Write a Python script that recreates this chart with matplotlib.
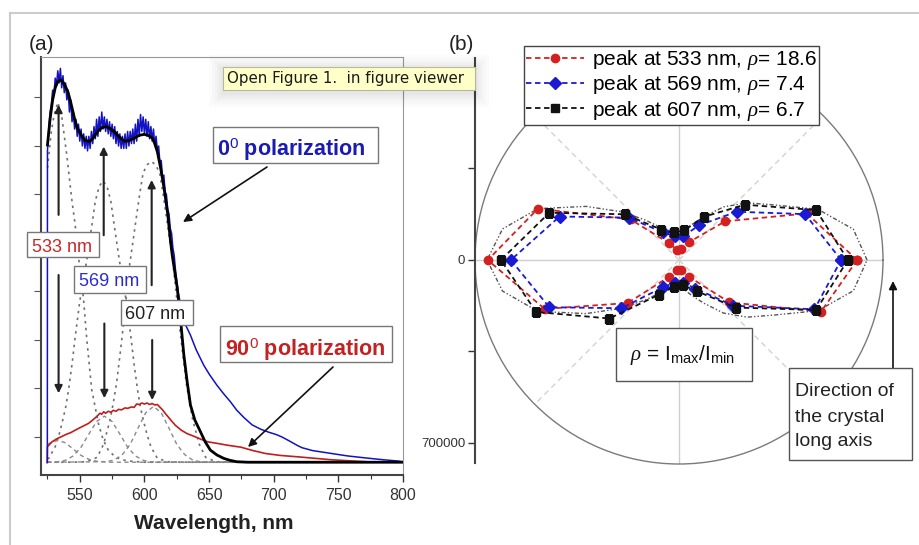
import numpy as np
import matplotlib
matplotlib.use("Agg")
import matplotlib.pyplot as plt
from matplotlib.patches import Rectangle
from matplotlib.lines import Line2D
from matplotlib.ticker import MultipleLocator

plt.rcParams['font.family'] = ['Liberation Sans', 'DejaVu Sans']
plt.rcParams['mathtext.fontset'] = 'custom'
plt.rcParams['mathtext.rm'] = 'Liberation Sans'
plt.rcParams['mathtext.it'] = 'Liberation Serif:italic'
plt.rcParams['mathtext.bf'] = 'Liberation Sans:bold'

# ---------------- panel (a) data (wavelength nm, intensity a.u.) ----------------
fit0_wl = [525, 527, 529, 531, 533, 535.6, 538, 540.8, 543, 545.9, 548, 551, 554, 557.4, 560,
           563.8, 567, 570.3, 573, 576.7, 580, 584.4, 588, 592, 596, 599.8, 603, 606.2, 608, 610,
           612.5, 615.2, 618, 620.2, 621.5, 623.5, 625.4, 628, 630.5, 633, 635.6, 639, 643.3, 647,
           651, 656, 661.3, 666, 671.5, 680, 800]
fit0_val = [7.02, 7.55, 7.95, 8.2, 8.33, 8.36, 8.28, 8.12, 7.9, 7.57, 7.38, 7.23, 7.12, 7.09, 7.15,
            7.30, 7.38, 7.40, 7.37, 7.30, 7.2, 7.10, 7.11, 7.16, 7.22, 7.24, 7.22, 7.16, 7.05, 6.88,
            6.55, 6.13, 5.6, 5.03, 4.75, 4.4, 4.07, 3.4, 2.69, 2.15, 1.66, 1.35, 1.11, 0.9,
            0.73, 0.63, 0.56, 0.52, 0.49, 0.48, 0.48]

blue_wl = [524.9] + list(range(525, 625)) + [626, 628, 630, 632, 635.6, 640, 645.9, 650, 656, 661,
           666.4, 671.5, 677, 683.3, 690, 696, 702, 706.4, 712, 718, 721.8, 730, 744.9, 757, 770.5,
           785, 796, 800]
blue_val = [0.48,
            6.9, 7.35, 7.7, 7.85, 8.15, 8.05, 8.4, 8.25, 8.55, 8.3,
            8.6, 8.2, 8.45, 8.1, 8.3, 7.95, 8.15, 7.7, 7.95, 7.5,
            7.7, 7.35, 7.55, 7.2, 7.45, 7.1, 7.35, 7.0, 7.25, 6.95,
            7.2, 6.9, 7.2, 6.95, 7.3, 7.05, 7.4, 7.15, 7.55, 7.2,
            7.6, 7.3, 7.7, 7.35, 7.6, 7.3, 7.55, 7.25, 7.5, 7.2,
            7.45, 7.15, 7.4, 7.05, 7.3, 7.0, 7.25, 6.95, 7.2, 6.95,
            7.25, 6.95, 7.3, 7.0, 7.3, 7.05, 7.35, 7.05, 7.45, 7.1,
            7.55, 7.2, 7.65, 7.3, 7.6, 7.25, 7.55, 7.2, 7.5, 7.15,
            7.4, 7.1, 7.35, 7.0, 7.2, 6.9, 7.0, 6.65, 6.7, 6.35,
            6.4, 6.05, 6.0, 5.7, 5.6, 5.3, 5.2, 4.9, 4.75, 4.45,
            4.0, 3.72, 3.5, 3.3, 3.1, 2.8, 2.48, 2.3, 2.07, 1.9,
            1.73, 1.55, 1.4, 1.25, 1.16, 1.1, 1.05, 1.0, 0.92, 0.83, 0.78, 0.72, 0.66, 0.61, 0.57,
            0.53, 0.505, 0.49]

red_wl = [524.8, 525, 528.5, 532, 536, 540, 543, 546.4, 550, 553, 556.7, 560, 563, 565.6, 567, 568.5,
          570, 572, 574, 576, 578, 580, 582.3, 585, 587, 590, 592, 594, 596, 598, 600, 602, 604,
          606, 608, 610, 611.8, 614, 616, 618.2, 621, 624, 628.5, 633, 638.7, 644, 649, 656, 664.4,
          674.6, 684, 693.6, 705, 719.2, 732, 744.9, 758, 772]
red_val = [0.47, 0.8, 0.90, 0.96, 1.01, 1.06, 1.09, 1.14, 1.19, 1.23, 1.28, 1.35, 1.42, 1.49, 1.47, 1.52,
           1.49, 1.53, 1.51, 1.55, 1.53, 1.57, 1.56, 1.6, 1.59, 1.62, 1.61, 1.68, 1.67, 1.70, 1.68, 1.70, 1.67,
           1.69, 1.66, 1.67, 1.62, 1.56, 1.49, 1.42, 1.33, 1.24, 1.14, 1.07, 1.01, 0.95, 0.90, 0.87, 0.83,
           0.79, 0.72, 0.66, 0.62, 0.59, 0.56, 0.53, 0.51, 0.49]

# fitted components, 0 deg (dotted)
c533_wl = [525, 526, 528, 530, 533, 536, 540, 543.8, 546.4, 549.5, 552.8, 555.4, 559.2, 564.4, 568, 572,
           577, 582.3, 590, 600, 620, 800]
c533_val = [6.55, 6.8, 7.3, 7.62, 7.9, 7.62, 6.8, 5.9, 5.38, 4.6, 3.87, 3.02, 1.98, 1.28, 0.95, 0.73,
            0.6, 0.53, 0.5, 0.48, 0.48, 0.48]
c569_wl = [525, 526, 531, 534, 536.2, 539, 541.3, 544, 546.4, 550, 553, 556, 559, 562, 565, 568, 571, 574,
           577, 580, 583, 586, 589.6, 592, 594.7, 597, 599.8, 602, 605, 610, 618, 630, 800]
c569_val = [0.55, 0.56, 0.8, 1.05, 1.28, 1.6, 1.97, 2.5, 3.05, 3.8, 4.25, 4.75, 5.3, 5.86, 6.17, 6.28,
            6.17, 5.86, 5.3, 4.75, 4.25, 3.8, 3.05, 2.5, 1.97, 1.6, 1.28, 1.05, 0.8, 0.56, 0.49, 0.48, 0.48]
c607_wl = [525, 545.4, 555.4, 563.4, 568.4, 573.4, 575.9, 578.4, 580.9, 583.6, 586.4, 588.7, 591.3, 593.8,
           596.4, 599, 602.4, 605.4, 608.4, 611.8, 614.4, 617, 619.5, 622.1, 624.4, 627.2, 629.9, 632.4,
           634.9, 637.4, 642.4, 647.4, 655.4, 665.4, 800]
c607_val = [0.48, 0.48, 0.49, 0.58, 0.85, 1.35, 1.7, 2.1, 2.65, 3.27, 4.0, 4.58, 5.06, 5.54, 6.02, 6.45,
            6.62, 6.68, 6.62, 6.45, 6.02, 5.54, 5.06, 4.58, 4.0, 3.27, 2.65, 2.1, 1.7, 1.35, 0.85, 0.58,
            0.49, 0.48, 0.48]
# fitted components, 90 deg (dashed)
d533_wl = [525, 527, 533, 539, 545, 551, 557, 563, 573, 800]
d533_val = [0.84, 0.88, 0.93, 0.88, 0.75, 0.62, 0.54, 0.50, 0.48, 0.48]
d569_wl = [525, 533, 539, 545, 551, 557, 563, 569, 575, 581, 587, 593, 599, 605, 615, 800]
d569_val = [0.48, 0.49, 0.52, 0.61, 0.79, 1.06, 1.32, 1.43, 1.32, 1.06, 0.79, 0.61, 0.52, 0.49, 0.48, 0.48]
d607_wl = [525, 571, 577, 583, 589, 595, 601, 607, 613, 619, 625, 631, 637, 643, 655, 800]
d607_val = [0.48, 0.49, 0.53, 0.64, 0.85, 1.18, 1.5, 1.63, 1.5, 1.18, 0.85, 0.64, 0.53, 0.49, 0.48, 0.48]

xticks_a = [550, 600, 650, 700, 750, 800]

# ---------------- panel (b) data (angle deg, intensity in thousands of counts) ----------------
angles = [0, 20, 40, 60, 80, 100, 120, 140, 160, 180, 200, 220, 240, 260, 280, 300, 320, 340]
r533 = [681, 520, 230, 80, 42, 38, 73, 241, 574, 731, 547, 256, 73, 38, 38, 73, 252, 578]
r569 = [620, 513, 287, 153, 92, 92, 122, 252, 486, 643, 528, 287, 119, 88, 88, 126, 272, 551]
r607 = [646, 558, 329, 191, 115, 107, 134, 272, 528, 681, 581, 348, 153, 103, 99, 138, 283, 558]
fit_angles = [0, 10, 20, 30, 40, 50, 60, 70, 80, 90, 100, 110, 120, 130, 140, 150, 160, 170, 180,
              190, 200, 210, 220, 230, 240, 250, 260, 270, 280, 290, 300, 310, 320, 330, 340, 350, 360]
fit_r = [719, 677, 566, 421, 340, 265, 191, 145, 115, 107, 107, 122, 145, 199, 287, 410, 574, 685, 734,
         685, 574, 410, 287, 199, 145, 122, 107, 107, 115, 145, 191, 265, 340, 421, 566, 677, 719]
legend_labels = [r'peak at 533 nm, $\rho$= 18.6', r'peak at 569 nm, $\rho$= 7.4',
                 r'peak at 607 nm, $\rho$= 6.7']
r_ticks = [-700000, -350000, 0, 350000, 700000]
r_ticklabels = ['', '', '0', '', '700000']

# ---------------- figure ----------------
W, H = 919, 545
fig = plt.figure(figsize=(W / 100, H / 100), dpi=100)
fig.patch.set_facecolor('white')


def fx(x):
    return x / W


def fy(y):
    return 1 - y / H


# page frame
fig.add_artist(Line2D([fx(10), 1], [fy(13), fy(13)], color='#cccccc', lw=1.5, transform=fig.transFigure))
fig.add_artist(Line2D([fx(10), fx(10)], [fy(13), 0], color='#cccccc', lw=1.5, transform=fig.transFigure))

# ---- panel (a)
axa = fig.add_axes([fx(41), fy(475), fx(403) - fx(41), fy(57) - fy(475)])
axa.set_xlim(520, 800)
axa.set_ylim(0.2165, 8.835)
dot = (0, (1.5, 2.6))
for wl, v in [(c533_wl, c533_val), (c569_wl, c569_val), (c607_wl, c607_val)]:
    axa.plot(wl, v, color='#707070', lw=1.2, ls=dot)
for wl, v in [(d533_wl, d533_val), (d569_wl, d569_val), (d607_wl, d607_val)]:
    axa.plot(wl, v, color='#8a8a8a', lw=1.0, ls=(0, (3, 2.5)))
axa.plot(red_wl, red_val, color='#c01e1e', lw=1.2)
axa.plot(blue_wl, blue_val, color='#1212c0', lw=1.1)
axa.plot(fit0_wl, fit0_val, color='black', lw=2.0)

arrow_kw = dict(arrowstyle='-|>', color='#222222', lw=1.5, mutation_scale=11, shrinkA=0, shrinkB=0)
for x, y0, y1 in [(533.6, 5.58, 7.85), (568.5, 5.16, 6.99), (605.6, 4.13, 6.3),
                  (533.6, 4.34, 1.90), (569.0, 3.34, 1.80), (606.0, 3.0, 1.76)]:
    axa.annotate('', xy=(x, y1), xytext=(x, y0), arrowprops=arrow_kw)

axa.set_xticks(xticks_a)
axa.xaxis.set_minor_locator(MultipleLocator(25))
axa.set_yticks(range(1, 9))
axa.set_yticklabels([])
axa.tick_params(axis='x', which='major', direction='out', length=5, width=1, colors='#333333',
                labelsize=11.5, pad=4)
axa.tick_params(axis='x', which='minor', direction='out', length=3, width=0.8, colors='#333333')
axa.tick_params(axis='y', direction='out', length=5, width=0.8, colors='#555555')
for s in ['left', 'bottom']:
    axa.spines[s].set_color('#444444')
    axa.spines[s].set_linewidth(1.5)
for s in ['top', 'right']:
    axa.spines[s].set_color('#999999')
    axa.spines[s].set_linewidth(0.8)

# ---- panel (b): polar
axb = fig.add_axes([fx(475), fy(464), fx(883) - fx(475), fy(56) - fy(464)], projection='polar')
rmax = 780000
axb.set_ylim(0, rmax)
axb.set_xticks([])
axb.set_yticks([])
axb.grid(False)
axb.spines['polar'].set_color('#7a7a7a')
axb.spines['polar'].set_linewidth(1.0)
for a in [0, 90, 180, 270]:
    axb.plot([np.deg2rad(a)] * 2, [0, rmax], color='#cfcfcf', lw=1.0, zorder=1)
for a in [45, 135, 225, 315]:
    axb.plot([np.deg2rad(a)] * 2, [0, rmax], color='#d2d2d2', lw=1.0, ls=(0, (4, 3)), zorder=1)

axb.plot(np.deg2rad(fit_angles), np.array(fit_r) * 1000, color='#555555', lw=1.0,
         ls=(0, (3, 1.5, 1, 1.5, 1, 1.5)), zorder=2)
series = [(r533, '#d42020', 'o', 6), (r569, '#1a1ad2', 'D', 6), (r607, '#111111', 's', 5.2)]
handles = []
for vals, c, m, ms in series:
    th = np.deg2rad(angles + [360])
    rr = np.array(vals + [vals[0]]) * 1000
    axb.plot(th, rr, color=c, lw=1.3, ls=(0, (3, 2)), marker=m, ms=ms, mfc=c, mec=c, zorder=3)
    handles.append(Line2D([], [], color=c, lw=1.3, ls=(0, (3, 2)), marker=m, ms=ms, mfc=c, mec=c))

leg = fig.legend(handles, legend_labels, loc='upper left', bbox_to_anchor=(fx(524), fy(46)),
                 bbox_transform=fig.transFigure, frameon=True, fancybox=False, edgecolor='#444444',
                 framealpha=1, borderpad=0.1, labelspacing=0.06, handlelength=2.8, handletextpad=0.35,
                 borderaxespad=0, fontsize=15)
leg.get_frame().set_linewidth(1.0)

# left axis of panel (b)
axl = fig.add_axes([fx(475), fy(463), 0.0001, fy(58) - fy(463)])
axl.set_ylim(776500, -772600)
for s in ['top', 'right', 'bottom']:
    axl.spines[s].set_visible(False)
axl.spines['left'].set_color('#444444')
axl.spines['left'].set_linewidth(1.5)
axl.set_xticks([])
axl.set_yticks(r_ticks)
axl.set_yticklabels(r_ticklabels)
axl.tick_params(axis='y', direction='out', length=5, width=1, colors='#333333', labelsize=9.5, pad=2)
axl.patch.set_visible(False)


# ---- annotation boxes (figure pixels)
def pbox(x0, y0, x1, y1, ec='#777777', lw=1.0, fc='white'):
    fig.add_artist(Rectangle((fx(x0), fy(y1)), fx(x1) - fx(x0), fy(y0) - fy(y1), transform=fig.transFigure,
                             fc=fc, ec=ec, lw=lw, zorder=4))


def ptext(x, y, s, **kw):
    fig.text(fx(x), fy(y), s, zorder=6, **kw)


pbox(27, 232, 99, 257)
ptext(62.5, 251.7, '533 nm', color='#c62828', fontsize=13, ha='center', va='baseline')
pbox(74, 266, 146, 293)
ptext(109.2, 286, '569 nm', color='#2b2bd0', fontsize=13, ha='center', va='baseline')
pbox(121, 300, 193, 325)
ptext(155.5, 319.3, '607 nm', color='#222222', fontsize=13, ha='center', va='baseline')
pbox(213, 127, 378, 163)
ptext(291.3, 156, r'0$^{\rm 0}$ polarization', color='#1a1ab4', fontsize=15.5, fontweight='bold',
      ha='center', va='baseline')
pbox(220, 326, 392, 362)
ptext(305.5, 355.7, r'90$^{\rm 0}$ polarization', color='#c42222', fontsize=15.5, fontweight='bold',
      ha='center', va='baseline')

pbox(616, 328, 752, 381, ec='#555555')
ptext(682.5, 360, r'$\rho$ = I$_{\rm max}$/I$_{\rm min}$', color='#111111', fontsize=15,
      ha='center', va='baseline')
pbox(789, 368, 912, 460, ec='#555555')
for yb, s in [(396, 'Direction of'), (422, 'the crystal'), (446, 'long axis')]:
    ptext(795, yb, s, color='#222222', fontsize=14, ha='left', va='baseline')

ann_kw = dict(arrowstyle='-|>', color='#111111', lw=1.2, mutation_scale=12, shrinkA=0, shrinkB=0)
for (x0, y0), (x1, y1) in [((267, 167), (183, 222)), ((333, 367), (248, 447)), ((893, 368), (893, 281))]:
    axa.annotate('', xy=(x1, H - y1), xytext=(x0, H - y0), xycoords='figure pixels',
                 textcoords='figure pixels', arrowprops=ann_kw, annotation_clip=False)

# axis label and panel letters
ptext(213.8, 529.3, 'Wavelength, nm', color='#222222', fontsize=15, fontweight='bold',
      ha='center', va='baseline')
ptext(42, 50, '(a)', color='#222222', fontsize=15, ha='center', va='baseline')
ptext(461.5, 50, '(b)', color='#222222', fontsize=15, ha='center', va='baseline')

# tooltip overlay with soft shadow
for i, m in enumerate([14, 11, 8, 6, 4, 2]):
    fig.add_artist(Rectangle((fx(223 - m), fy(90 + m + 3)), fx(475 + m) - fx(223 - m),
                             fy(66 - m + 3) - fy(90 + m + 3), transform=fig.transFigure,
                             fc='black', ec='none', alpha=0.015, zorder=7))
fig.add_artist(Rectangle((fx(223), fy(90)), fx(475) - fx(223), fy(67) - fy(90), transform=fig.transFigure,
                         fc='#ffffc8', ec='#b8b89a', lw=0.8, zorder=8))
fig.text(fx(227), fy(83.3), 'Open Figure 1.  in figure viewer', family='DejaVu Sans', fontsize=10.8,
         color='#1a1a1a', ha='left', va='baseline', zorder=9)

fig.savefig('out.png', dpi=100)
